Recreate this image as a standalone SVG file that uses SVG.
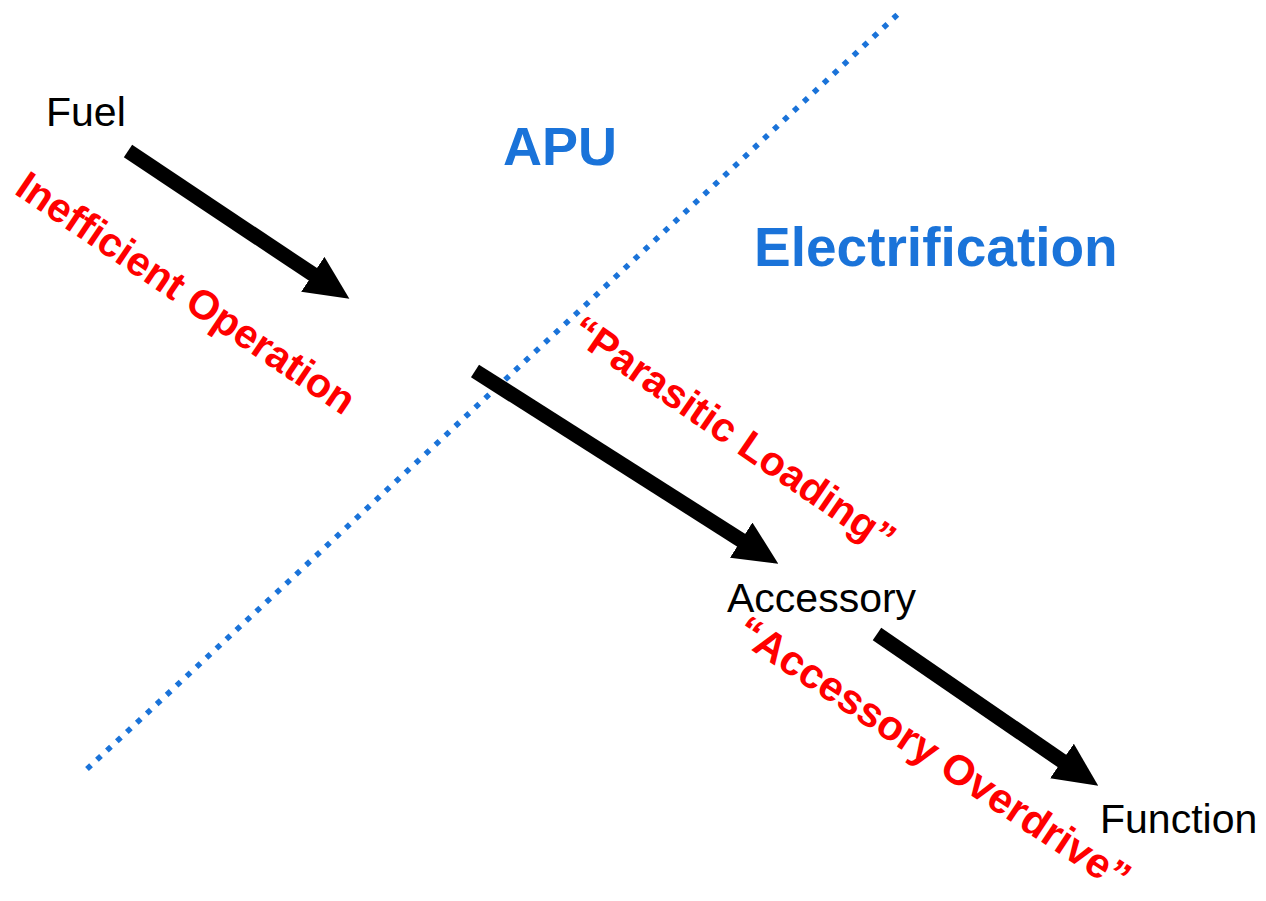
<svg xmlns="http://www.w3.org/2000/svg" width="1266" height="901" viewBox="0 0 1266 901">
  <style>
    .lbl { font-family: "Liberation Sans", Arial, Helvetica, sans-serif; font-size: 41px; fill: #000; }
    .region { font-family: "Liberation Sans", Arial, Helvetica, sans-serif; font-size: 54px; font-weight: bold; fill: #1a73d9; }
    .issue { font-family: "Liberation Sans", Arial, Helvetica, sans-serif; font-size: 41px; font-weight: bold; fill: #ff0000; }
    .flow { stroke: #000; stroke-width: 15; fill: none; stroke-linecap: butt; marker-end: url(#head); }
    .divider { stroke: #1a73d9; stroke-width: 5.5; stroke-dasharray: 5.5 8.1; fill: none; }
  </style>
  <defs>
    <marker id="head" markerUnits="userSpaceOnUse" markerWidth="44" markerHeight="42" viewBox="0 0 42 40" refX="10" refY="20" orient="auto">
      <path d="M0,0 L42,20 L0,40 z" fill="#000"/>
    </marker>
  </defs>
  <rect width="1266" height="901" fill="#fff"/>

  <g id="divider">
    <line class="divider" x1="87" y1="769" x2="898" y2="14"/>
  </g>

  <g id="connectors">
    <line class="flow" x1="128" y1="151" x2="321.5" y2="280.1"/>
    <line class="flow" x1="475" y1="371" x2="750" y2="545.8"/>
    <line class="flow" x1="877" y1="634" x2="1070.6" y2="766.9"/>
  </g>

  <g id="node-fuel"><text class="lbl" x="46" y="126">Fuel</text></g>
  <g id="node-accessory"><text class="lbl" x="727" y="612">Accessory</text></g>
  <g id="node-function"><text class="lbl" x="1100" y="833">Function</text></g>

  <g id="region-apu"><text class="region" x="503" y="165">APU</text></g>
  <g id="region-electrification"><text class="region" x="754" y="266" style="font-size:55px">Electrification</text></g>

  <g id="label-inefficient"><text class="issue" transform="translate(13,193) rotate(34)">Inefficient Operation</text></g>
  <g id="label-parasitic"><text class="issue" transform="translate(568,337) rotate(34.5)">“Parasitic Loading”</text></g>
  <g id="label-overdrive"><text class="issue" transform="translate(733,638) rotate(33.5)" style="font-size:42px">“Accessory Overdrive”</text></g>
</svg>
